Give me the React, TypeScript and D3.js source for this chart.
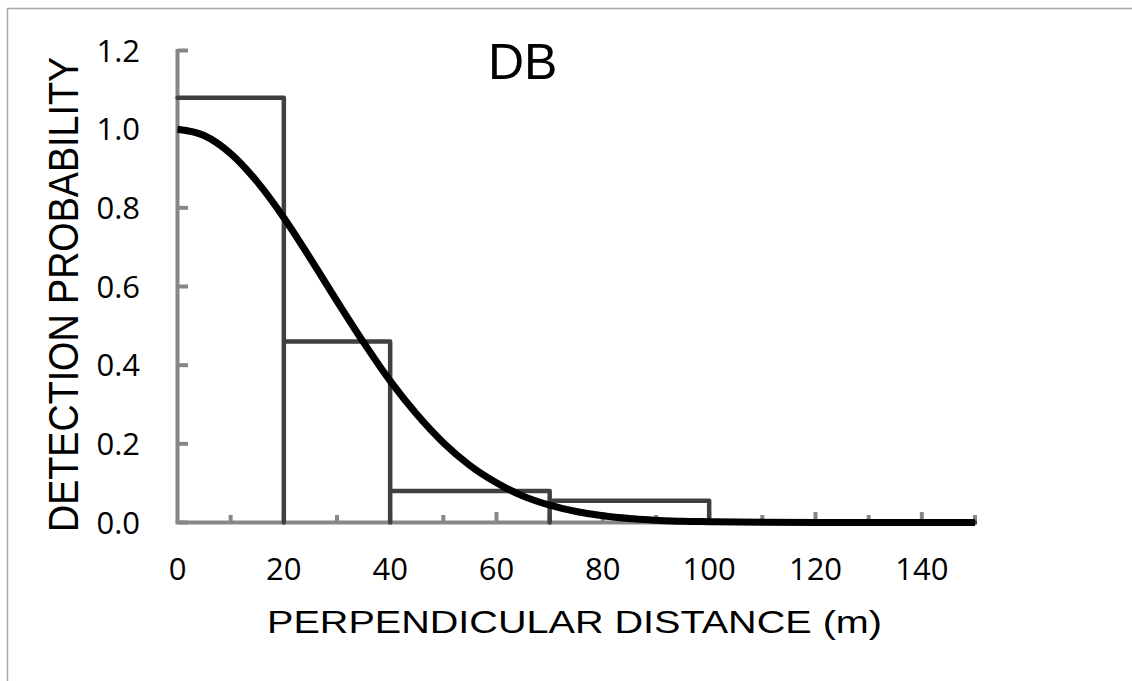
import React from "react";
import * as d3 from "d3";

const xTicks = [0, 20, 40, 60, 80, 100, 120, 140];
const xMinorTicks = [10, 30, 50, 70, 90, 110, 130, 150];
const yTicks = [0, 0.2, 0.4, 0.6, 0.8, 1.0, 1.2];
const binEdges = [0, 20, 40, 70, 100, 150];
const binHeights = [1.08, 0.46, 0.08, 0.055, 0];
const curveX = [0, 5, 10, 15, 20, 25, 30, 35, 40, 45, 50, 55, 60, 65, 70, 75, 80, 85, 90, 95, 100, 110, 120, 130, 140, 150];
const curveY = [1.0, 0.984, 0.938, 0.866, 0.775, 0.671, 0.563, 0.458, 0.36, 0.275, 0.203, 0.145, 0.101, 0.067, 0.044, 0.028, 0.017, 0.01, 0.006, 0.003, 0.002, 0.0005, 0.0001, 0, 0, 0];
const title = "DB";
const xTitle = "PERPENDICULAR DISTANCE (m)";
const yTitle = "DETECTION PROBABILITY";

export default function App() {
  const W = 1132, H = 681;
  const x = d3.scaleLinear().domain([0, 150]).range([177.5, 975]);
  const y = d3.scaleLinear().domain([0, 1.2]).range([522.5, 50.5]);
  const axisColor = "#878787";
  const histColor = "#404040";

  const histPts: [number, number][] = [];
  binHeights.forEach((h, i) => {
    histPts.push([binEdges[i], h]);
    histPts.push([binEdges[i + 1], h]);
    histPts.push([binEdges[i + 1], 0]);
  });
  const histPath = d3.line<[number, number]>().x(d => x(d[0])).y(d => y(d[1]))(histPts) || "";
  const curvePts: [number, number][] = curveX.map((v, i) => [v, curveY[i]]);
  const curvePath = d3.line<[number, number]>().x(d => x(d[0])).y(d => y(d[1])).curve(d3.curveMonotoneX)(curvePts) || "";

  return (
    <svg width={W} height={H} style={{ position: "absolute", left: 0, top: 0, background: "#fff" }}>
      <path d={`M7.5,${H + 5} V8.5 H${W + 5}`} fill="none" stroke="#a6a6a6" strokeWidth={1.5} />
      {/* axes */}
      <line x1={x(0)} x2={x(0)} y1={y(1.2) - 1.5} y2={y(0)} stroke={axisColor} strokeWidth={4} />
      <line x1={x(0) - 2} x2={x(150) + 2} y1={y(0)} y2={y(0)} stroke={axisColor} strokeWidth={4} />
      {yTicks.map(t => (
        <line key={"yt" + t} x1={x(0)} x2={x(0) + 10.5} y1={y(t)} y2={y(t)} stroke={axisColor} strokeWidth={4} />
      ))}
      {xTicks.slice(1).map(t => (
        <line key={"xt" + t} x1={x(t)} x2={x(t)} y1={y(0)} y2={y(0) - 10.5} stroke={axisColor} strokeWidth={4} />
      ))}
      {xMinorTicks.map(t => (
        <line key={"xm" + t} x1={x(t)} x2={x(t)} y1={y(0)} y2={y(0) - 7.5} stroke={axisColor} strokeWidth={4} />
      ))}
      {/* histogram */}
      <path d={histPath} fill="none" stroke={histColor} strokeWidth={4.5} strokeLinejoin="round" strokeLinecap="round" />
      {/* detection curve */}
      <path d={curvePath} fill="none" stroke="#000" strokeWidth={7} />
      {/* tick labels */}
      {yTicks.map(t => (
        <text key={"yl" + t} x={140} y={y(t) + 11} textAnchor="end" fontFamily="'Open Sans'" fontSize={31} fill="#000">
          {t.toFixed(1)}
        </text>
      ))}
      {xTicks.map(t => (
        <text key={"xl" + t} x={x(t)} y={580} textAnchor="middle" fontFamily="'Open Sans'" fontSize={31} fill="#000">
          {t}
        </text>
      ))}
      {/* titles */}
      <text x={488} y={79} fontFamily="'Liberation Sans', Arial" fontSize={50} fill="#000">{title}</text>
      <text x={267} y={633} fontFamily="'Liberation Sans', Arial" fontSize={32} fill="#000" textLength={615} lengthAdjust="spacingAndGlyphs">{xTitle}</text>
      <text transform={`translate(78,${(57 + 532) / 2}) rotate(-90)`} textAnchor="middle" fontFamily="'Liberation Sans', Arial" fontSize={43} fill="#000" textLength={475} lengthAdjust="spacingAndGlyphs">{yTitle}</text>
    </svg>
  );
}
